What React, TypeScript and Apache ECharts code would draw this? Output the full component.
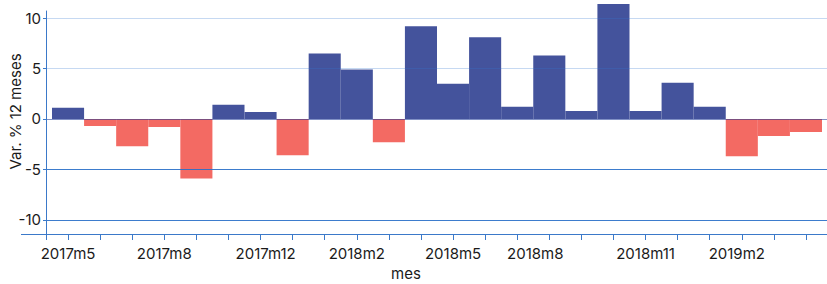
import React, { useEffect, useRef } from "react";
import * as echarts from "echarts";

const categories = [
  "2017m5", "2017m6", "2017m7", "2017m8", "2017m9", "2017m10", "2017m11", "2017m12",
  "2018m1", "2018m2", "2018m3", "2018m4", "2018m5", "2018m6", "2018m7", "2018m8",
  "2018m9", "2018m10", "2018m11", "2018m12", "2019m1", "2019m2", "2019m3", "2019m4",
];
const values = [
  1.1, -0.7, -2.7, -0.8, -5.9, 1.4, 0.7, -3.6,
  6.5, 4.9, -2.3, 9.2, 3.5, 8.1, 1.2, 6.3,
  0.8, 11.4, 0.8, 3.6, 1.2, -3.7, -1.7, -1.3,
];
const shownLabels = ["2017m5", "2017m8", "2017m12", "2018m2", "2018m5", "2018m8", "2018m11", "2019m2"];
const yMin = -11.4;
const yMax = 10.7;

const AXIS_BLUE = "#3b79c9";
const FONT = "Inter";
const FS = 15;

export default function App() {
  const ref = useRef<HTMLDivElement>(null);
  useEffect(() => {
    document.body.style.margin = "0";
    if (!ref.current) return;
    const chart = echarts.init(ref.current, null, { renderer: "svg" });
    chart.setOption({
      animation: false,
      textStyle: { fontFamily: FONT },
      grid: [
        { left: 52, right: 5, top: 11, bottom: 50, outerBoundsMode: "none", containLabel: false },
        { left: 46, right: 0, top: 11, bottom: 50, outerBoundsMode: "none", containLabel: false },
      ],
      xAxis: [
        {
          type: "category",
          gridIndex: 0,
          data: categories,
          axisLine: { show: false, onZero: false },
          axisTick: {
            show: true,
            alignWithLabel: true,
            interval: 0,
            length: 6,
            lineStyle: { color: AXIS_BLUE, width: 1 },
          },
          axisLabel: {
            interval: (_i: number, v: string) => shownLabels.includes(v),
            fontSize: FS,
            color: "#1a1a1a",
            margin: 12,
            fontFamily: FONT,
            formatter: (v: string) => {
              if (v === "2017m12") return "{a|" + v + "}";
              if (v === "2018m8") return "{b|" + v + "}";
              if (v === "2019m2") return "{c|" + v + "}";
              return v;
            },
            rich: {
              a: { fontSize: FS, color: "#1a1a1a", fontFamily: FONT, padding: [0, 54, 0, 0] },
              b: { fontSize: FS, color: "#1a1a1a", fontFamily: FONT, padding: [0, 28, 0, 0] },
              c: { fontSize: FS, color: "#1a1a1a", fontFamily: FONT, padding: [0, 10, 0, 0] },
            },
          },
          name: "mes",
          nameLocation: "middle",
          nameGap: 32,
          nameMoveOverlap: false,
          nameTextStyle: {
            fontSize: FS,
            lineHeight: 15,
            color: "#1a1a1a",
            fontFamily: FONT,
            padding: [0, 62, 0, 0],
          },
        },
        {
          type: "value",
          gridIndex: 1,
          min: 0,
          max: 1,
          show: false,
        },
      ],
      yAxis: [
        {
          type: "value",
          gridIndex: 0,
          min: yMin,
          max: yMax,
          show: false,
          splitLine: { show: false },
        },
        {
          type: "value",
          gridIndex: 1,
          min: yMin,
          max: yMax,
          z: 5,
          axisLine: { show: true, lineStyle: { color: AXIS_BLUE, width: 1 } },
          axisTick: { show: true, length: 3, lineStyle: { color: AXIS_BLUE } },
          axisLabel: {
            fontSize: FS,
            color: "#1a1a1a",
            margin: 5,
            fontFamily: FONT,
            showMinLabel: false,
            showMaxLabel: false,
          },
          splitLine: {
            show: true,
            showMinLine: false,
            showMaxLine: false,
            lineStyle: {
              width: 1,
              color: [
                "rgba(40,110,200,0.9)",
                "rgba(40,110,200,0.9)",
                "rgba(25,55,150,0.55)",
                "rgba(50,120,210,0.28)",
                "rgba(50,120,210,0.28)",
              ],
            },
          },
          name: "Var. % 12 meses",
          nameLocation: "middle",
          nameRotate: 90,
          nameGap: 23,
          nameMoveOverlap: false,
          nameTextStyle: {
            fontSize: FS,
            lineHeight: 15,
            color: "#1a1a1a",
            fontFamily: FONT,
            padding: [0, 0, 0, 22],
          },
        },
      ],
      graphic: [
        {
          type: "line",
          shape: { x1: 21, y1: 234.5, x2: 827, y2: 234.5 },
          style: { stroke: AXIS_BLUE, lineWidth: 1 },
          z: 6,
        },
        {
          type: "line",
          shape: { x1: 46.5, y1: 234, x2: 46.5, y2: 240 },
          style: { stroke: AXIS_BLUE, lineWidth: 1 },
          z: 6,
        },
      ],
      series: [
        {
          type: "bar",
          xAxisIndex: 0,
          yAxisIndex: 0,
          data: values,
          barWidth: "100%",
          barCategoryGap: 0,
          clip: false,
          itemStyle: {
            color: (p: any) => (p.value >= 0 ? "#44539c" : "#f36a63"),
          },
        },
      ],
    });
    return () => chart.dispose();
  }, []);
  return <div ref={ref} style={{ width: 827, height: 284 }} />;
}
